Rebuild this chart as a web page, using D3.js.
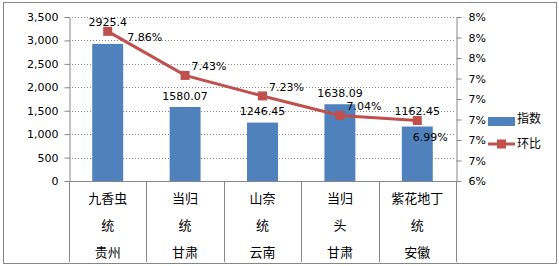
<html>
<head>
<meta charset="utf-8">
<script src="https://d3js.org/d3.v7.min.js"></script>
<style>
body { margin: 0; background: #fff; }
text { font-family: "DejaVu Sans", sans-serif; fill: #000; }
.cjk { font-family: "Noto Sans CJK SC", sans-serif; }
</style>
</head>
<body>
<div id="chart"></div>
<script type="text/javascript">
// data
var catLine1 = ["九香虫", "当归", "山奈", "当归", "紫花地丁"];
var catLine2 = ["统", "统", "统", "头", "统"];
var catLine3 = ["贵州", "甘肃", "云南", "甘肃", "安徽"];
var indexValues = [2925.4, 1580.07, 1246.45, 1638.09, 1162.45];
var ratioValues = [0.0786, 0.0743, 0.0723, 0.0704, 0.0699];
var leftTicks = [0, 500, 1000, 1500, 2000, 2500, 3000, 3500];
var rightTicks = [0.064, 0.066, 0.068, 0.070, 0.072, 0.074, 0.076, 0.078, 0.080];
var seriesNames = ["指数", "环比"];
// where each % label sits relative to its marker
var pctLabelPos = ["right", "upright", "upright", "upright", "below"];

var W = 559, H = 266;
var plotL = 69, plotR = 456, plotT = 17, plotB = 181;
var barColor = "#4F81BD", lineColor = "#C0504D", axisColor = "#868686";

var svg = d3.select("#chart").append("svg")
    .attr("width", W).attr("height", H);

// outer border
svg.append("rect")
    .attr("x", 3.5).attr("y", 2.5)
    .attr("width", 553).attr("height", 261)
    .attr("fill", "none").attr("stroke", axisColor);

var idx = d3.range(catLine1.length);
var x = d3.scaleBand().domain(idx).range([plotL, plotR]).padding(0);
var yL = d3.scaleLinear().domain([0, 3500]).range([plotB, plotT]);
var yR = d3.scaleLinear().domain([0.064, 0.080]).range([plotB, plotT]);

// grid lines
svg.append("g").selectAll("line")
    .data(leftTicks.slice(1))
    .enter().append("line")
    .attr("x1", plotL).attr("x2", plotR)
    .attr("y1", function(d) { return Math.round(yL(d)) + 0.5; })
    .attr("y2", function(d) { return Math.round(yL(d)) + 0.5; })
    .attr("stroke", axisColor)
    .attr("stroke-dasharray", "1,2");

// bars
var barW = x.bandwidth() * 0.4;
svg.append("g").selectAll("rect")
    .data(indexValues)
    .enter().append("rect")
    .attr("x", function(d, i) { return x(i) + (x.bandwidth() - barW) / 2; })
    .attr("y", function(d) { return yL(d); })
    .attr("width", barW)
    .attr("height", function(d) { return plotB - yL(d); })
    .attr("fill", barColor);

// left axis
var gL = svg.append("g")
    .attr("transform", "translate(" + (plotL + 0.5) + ",0)")
    .call(d3.axisLeft(yL).tickValues(leftTicks).tickFormat(d3.format(",")).tickSize(5).tickSizeOuter(0));
gL.selectAll("text").style("font-size", "11px").attr("x", -11);

// right axis
var gR = svg.append("g")
    .attr("transform", "translate(" + (plotR + 0.5) + ",0)")
    .call(d3.axisRight(yR).tickValues(rightTicks).tickFormat(d3.format(".0%")).tickSize(5).tickSizeOuter(0));
gR.selectAll("text").style("font-size", "11px").attr("x", 12);

[gL, gR].forEach(function(g) {
    g.selectAll("path, line").attr("stroke", axisColor);
});

// bottom axis and category separators
svg.append("line")
    .attr("x1", plotL).attr("x2", plotR)
    .attr("y1", plotB + 0.5).attr("y2", plotB + 0.5)
    .attr("stroke", axisColor);
svg.append("g").selectAll("line")
    .data(d3.range(catLine1.length + 1))
    .enter().append("line")
    .attr("x1", function(d) { return Math.round(plotL + d * x.step()) + 0.5; })
    .attr("x2", function(d) { return Math.round(plotL + d * x.step()) + 0.5; })
    .attr("y1", plotB).attr("y2", 262)
    .attr("stroke", axisColor);

[catLine1, catLine2, catLine3].forEach(function(lines, k) {
    svg.append("g").selectAll("text")
        .data(lines)
        .enter().append("text")
        .attr("class", "cjk")
        .attr("x", function(d, i) { return x(i) + x.bandwidth() / 2; })
        .attr("y", 198 + k * 27)
        .attr("dy", "0.35em")
        .attr("text-anchor", "middle")
        .style("font-size", "13px")
        .text(function(d) { return d; });
});

// line series
var cx = function(i) { return x(i) + x.bandwidth() / 2; };
var line = d3.line()
    .x(function(d, i) { return cx(i); })
    .y(function(d) { return yR(d); });
svg.append("path")
    .datum(ratioValues)
    .attr("fill", "none")
    .attr("stroke", lineColor)
    .attr("stroke-width", 3)
    .attr("d", line);
svg.append("g").selectAll("rect")
    .data(ratioValues)
    .enter().append("rect")
    .attr("x", function(d, i) { return cx(i) - 4.5; })
    .attr("y", function(d) { return yR(d) - 4.5; })
    .attr("width", 9).attr("height", 9)
    .attr("fill", lineColor);

// bar value labels, lifted over the marker when they would collide
svg.append("g").selectAll("text")
    .data(indexValues)
    .enter().append("text")
    .attr("x", function(d, i) { return cx(i); })
    .attr("y", function(d, i) {
        var ly = yL(d) - 11;
        var my = yR(ratioValues[i]);
        if (Math.abs(ly - my) < 8) ly = my - 9;
        return ly;
    })
    .attr("dy", "0.35em")
    .attr("text-anchor", "middle")
    .style("font-size", "11px")
    .text(function(d) { return d; });

// percent labels
var fmtPct = d3.format(".2%");
svg.append("g").selectAll("text")
    .data(ratioValues)
    .enter().append("text")
    .attr("x", function(d, i) {
        var p = pctLabelPos[i];
        return cx(i) + (p == "right" ? 37 : p == "below" ? 13 : 24);
    })
    .attr("y", function(d, i) {
        var p = pctLabelPos[i];
        return yR(d) + (p == "right" ? 6 : p == "below" ? 17 : -9);
    })
    .attr("dy", "0.35em")
    .attr("text-anchor", "middle")
    .style("font-size", "11px")
    .text(function(d) { return fmtPct(d); });

// legend
var lg = svg.append("g");
lg.append("rect")
    .attr("x", 488).attr("y", 117)
    .attr("width", 27).attr("height", 9)
    .attr("fill", barColor);
lg.append("line")
    .attr("x1", 488).attr("x2", 515)
    .attr("y1", 144).attr("y2", 144)
    .attr("stroke", lineColor).attr("stroke-width", 3);
lg.append("rect")
    .attr("x", 497).attr("y", 139.5)
    .attr("width", 9).attr("height", 9)
    .attr("fill", lineColor);
lg.selectAll("text.leg")
    .data(seriesNames)
    .enter().append("text")
    .attr("class", "cjk")
    .attr("x", 517)
    .attr("y", function(d, i) { return 119 + i * 24.5; })
    .attr("dy", "0.35em")
    .style("font-size", "12px")
    .text(function(d) { return d; });
</script>
</body>
</html>
